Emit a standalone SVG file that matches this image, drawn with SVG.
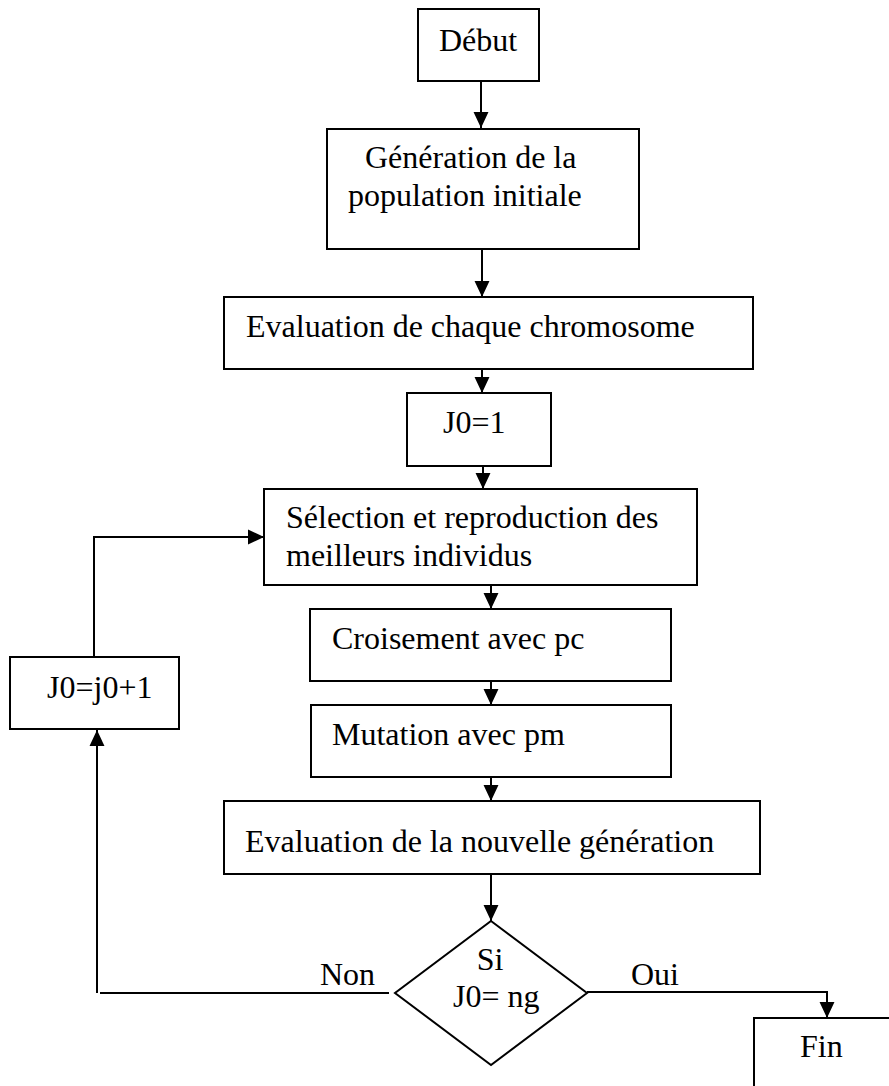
<svg xmlns="http://www.w3.org/2000/svg" width="889" height="1086" viewBox="0 0 889 1086">
  <style>
    .box { fill: #ffffff; stroke: #000000; stroke-width: 2; }
    .wire { fill: none; stroke: #000000; stroke-width: 2; }
    .lbl { font-family: "Liberation Serif", "Times New Roman", serif; font-size: 32px; fill: #000000; }
  </style>
  <defs>
    <marker id="arrow" markerUnits="userSpaceOnUse" markerWidth="16" markerHeight="16" viewBox="0 0 15 14" refX="15" refY="7" orient="auto">
      <path d="M0,0 L15,7 L0,14 Z" fill="#000000"/>
    </marker>
  </defs>
  <rect width="889" height="1086" fill="#ffffff"/>

  <!-- connectors -->
  <g id="connectors">
    <line class="wire" x1="481" y1="81" x2="481" y2="128" marker-end="url(#arrow)"/>
    <line class="wire" x1="482" y1="249" x2="482" y2="297" marker-end="url(#arrow)"/>
    <line class="wire" x1="482" y1="369" x2="482" y2="393" marker-end="url(#arrow)"/>
    <line class="wire" x1="483" y1="466" x2="483" y2="489" marker-end="url(#arrow)"/>
    <line class="wire" x1="491" y1="585" x2="491" y2="609" marker-end="url(#arrow)"/>
    <line class="wire" x1="491" y1="681" x2="491" y2="705" marker-end="url(#arrow)"/>
    <line class="wire" x1="491" y1="777" x2="491" y2="801" marker-end="url(#arrow)"/>
    <line class="wire" x1="491" y1="874" x2="491" y2="921" marker-end="url(#arrow)"/>
    <!-- Oui branch -->
    <polyline class="wire" points="587,992 827,992 827,1018" marker-end="url(#arrow)"/>
    <!-- Non branch, back up to the increment box -->
    <line class="wire" x1="389" y1="993" x2="100" y2="993"/>
    <line class="wire" x1="97" y1="993" x2="97" y2="730" marker-end="url(#arrow)"/>
    <!-- loop back to selection -->
    <polyline class="wire" points="94,657 94,537 264,537" marker-end="url(#arrow)"/>
    <text class="lbl" x="320" y="985">Non</text>
    <text class="lbl" x="631" y="985">Oui</text>
  </g>

  <g id="debut">
    <rect class="box" x="418" y="9" width="121" height="72"/>
    <text class="lbl" x="439" y="51">Début</text>
  </g>

  <g id="generation">
    <rect class="box" x="327" y="129" width="312" height="120"/>
    <text class="lbl" x="365" y="168">Génération de la</text>
    <text class="lbl" x="348" y="206">population initiale</text>
  </g>

  <g id="evaluation">
    <rect class="box" x="224" y="297" width="529" height="72"/>
    <text class="lbl" x="246" y="337">Evaluation de chaque chromosome</text>
  </g>

  <g id="init-j0">
    <rect class="box" x="407" y="393" width="144" height="73"/>
    <text class="lbl" x="443" y="433">J0=1</text>
  </g>

  <g id="selection">
    <rect class="box" x="264" y="489" width="433" height="96"/>
    <text class="lbl" x="286" y="528">Sélection et reproduction des</text>
    <text class="lbl" x="286" y="566">meilleurs individus</text>
  </g>

  <g id="croisement">
    <rect class="box" x="310" y="609" width="361" height="72"/>
    <text class="lbl" x="332" y="649">Croisement avec pc</text>
  </g>

  <g id="mutation">
    <rect class="box" x="311" y="705" width="360" height="72"/>
    <text class="lbl" x="332" y="745">Mutation avec pm</text>
  </g>

  <g id="evaluation-nouvelle">
    <rect class="box" x="224" y="801" width="536" height="73"/>
    <text class="lbl" x="245" y="852">Evaluation de la nouvelle génération</text>
  </g>

  <g id="increment">
    <rect class="box" x="10" y="657" width="169" height="72"/>
    <text class="lbl" x="47" y="698">J0=j0+1</text>
  </g>

  <g id="test">
    <polygon class="box" points="491,921 587,993 491,1065 395,993"/>
    <text class="lbl" x="490" y="970" text-anchor="middle">Si</text>
    <text class="lbl" x="453" y="1007">J0= ng</text>
  </g>

  <g id="fin">
    <rect class="box" x="754" y="1018" width="200" height="120"/>
    <text class="lbl" x="800" y="1057">Fin</text>
  </g>
</svg>
